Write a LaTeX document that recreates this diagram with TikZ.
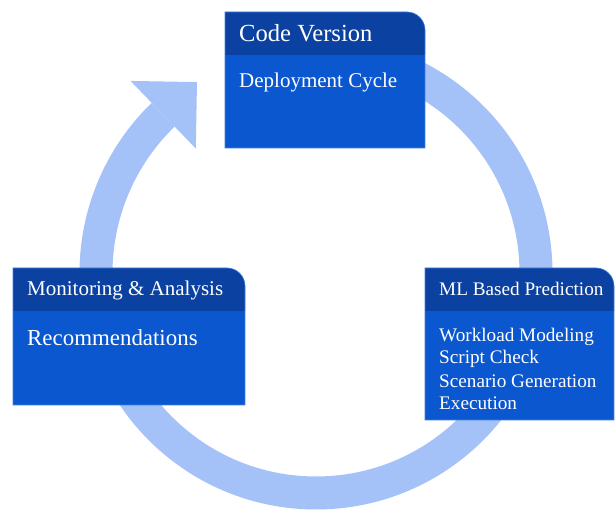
\documentclass[tikz,border=0pt]{standalone}
\usepackage{fontspec}
\setmainfont{Liberation Serif}
\newfontfamily\cardfont{Liberation Serif}
\usetikzlibrary{calc}
\definecolor{ringc}{HTML}{A4C2F7}
\definecolor{headc}{HTML}{0B41A0}
\definecolor{bodyc}{HTML}{0B57D0}
\definecolor{edgec}{HTML}{3F7FE0}
\newcommand\cardbox[5]{% x1, x2, ytop, yhead, ybottom
  \fill[bodyc] (#1,#5) rectangle (#2,#4);
  \fill[headc] (#1,#4) -- (#1,#3) -- ({#2-18},#3) arc[start angle=90,end angle=0,radius=18] -- (#2,#4) -- cycle;
  \draw[edgec, line width=0.6pt] (#1,#5) -- (#1,#3) -- ({#2-18},#3) arc[start angle=90,end angle=0,radius=18] -- (#2,#5) -- cycle;
}
\begin{document}
\begin{tikzpicture}[x=1pt,y=1pt,
  txt/.style={text=white, inner sep=0pt, anchor=base west}]
\useasboundingbox (0,0) rectangle (616,510);
% ring arrow
\coordinate (C) at (316,237);
\draw[ringc, line width=33pt] ($(C)+(90:220)$) arc[start angle=90, end angle=-226, radius=220];
\coordinate (B) at ($(C)+(134:220)$);
\fill[ringc] ($(B)+(134:47)$) -- ($(B)+(44:47)$) -- ($(B)+(-46:47)$) -- cycle;
% boxes
\cardbox{225}{425}{498}{455}{362}
\cardbox{13}{245}{242}{199}{105}
\cardbox{425}{614}{242}{199}{90}
% texts
\node[txt, font=\cardfont\fontsize{24.6}{28}\selectfont] (cv) at (239,468) {Code Version};
\node[txt, font=\cardfont\fontsize{21}{25}\selectfont] (dc) at (239,422) {Deployment Cycle};
\node[txt, font=\cardfont\fontsize{21}{25}\selectfont] (ma) at (27,214) {Monitoring \& Analysis};
\node[txt, font=\cardfont\fontsize{22.9}{26}\selectfont] (rc) at (27,164) {Recommendations};
\node[txt, font=\cardfont\fontsize{19.2}{23}\selectfont] (ml) at (439,214) {ML Based Prediction};
\node[txt, font=\cardfont\fontsize{19.2}{23}\selectfont] (wm) at (439,168) {Workload Modeling};
\node[txt, font=\cardfont\fontsize{19.2}{23}\selectfont] (sc) at (439,146) {Script Check};
\node[txt, font=\cardfont\fontsize{19.2}{23}\selectfont] (sg) at (439,122) {Scenario Generation};
\node[txt, font=\cardfont\fontsize{19.2}{23}\selectfont] (ex) at (439,100) {Execution};
\end{tikzpicture}
\end{document}
